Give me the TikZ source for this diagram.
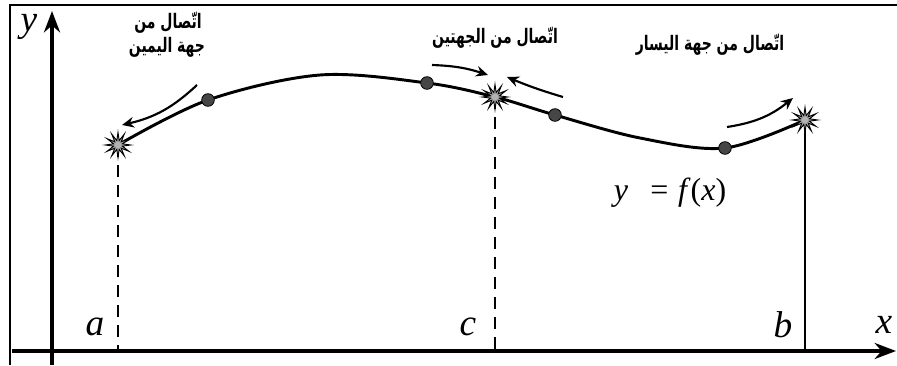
\documentclass[tikz,border=0pt]{standalone}
\usepackage{fontspec}
\usepackage{graphicx}
\setmainfont{Liberation Serif}
\newfontfamily\arabicfont[Script=Arabic]{DejaVu Sans}
\TeXXeTstate=1
\usetikzlibrary{arrows.meta,shapes.geometric}
\newcommand{\artext}[1]{\scalebox{0.7}[1]{\beginR #1\endR}}
\tikzset{
  axis/.style={line width=3.6pt,-{Stealth[length=16pt,width=12pt]}},
  frameline/.style={line width=1.6pt},
  fcurve/.style={line width=2.2pt},
  guide/.style={line width=1.4pt,dash pattern=on 9pt off 6pt},
  guidesolid/.style={line width=1.4pt},
  dotpt/.style={circle,fill=gray!55!black,draw=black,line width=0.6pt,minimum size=9.5pt,inner sep=0pt},
  starpt/.style={star,star points=12,star point ratio=2.8,fill=gray!60,draw=black,line width=0.7pt,minimum size=19pt,inner sep=0pt},
  limarrow/.style={line width=1.6pt,-{Stealth[length=9pt,width=8pt,inset=3pt]}},
  lbl/.style={font=\fontsize{28}{30}\selectfont\itshape,inner sep=0pt},
  arlbl/.style={font=\arabicfont\bfseries\fontsize{15}{17}\selectfont,inner sep=1pt}
}
\begin{document}
\begin{tikzpicture}[x=0.75pt,y=0.75pt]
\useasboundingbox (0,0) rectangle (897,365);
\fill[white] (0,0) rectangle (897,365);
% frame
\coordinate (fbl) at (10,0);
\coordinate (ftl) at (10,360);
\coordinate (ftr) at (897,360);
\draw[frameline] (fbl) -- (ftl) -- (ftr);
% axes
\coordinate (xs) at (12,14);
\coordinate (xe) at (896,14);
\coordinate (ys) at (52,0);
\coordinate (ye) at (52,354);
\draw[axis] (xs) -- (xe);
\draw[axis] (ys) -- (ye);
\node[lbl] (ylab) at (29,338) {y};
\node[lbl] (xlab) at (884,40) {x};
% curve points
\coordinate (sa) at (118,220);
\coordinate (d1) at (208,265);
\coordinate (pk) at (320,290);
\coordinate (d2) at (427,282);
\coordinate (sc) at (495,268);
\coordinate (d3) at (555,250);
\coordinate (md) at (640,227);
\coordinate (d4) at (725,217);
\coordinate (sb) at (805,245);
% feet
\coordinate (fa) at (118,14);
\coordinate (fc) at (495,14);
\coordinate (fb) at (805,14);
\draw[guide] (sa) -- (fa);
\draw[guide] (sc) -- (fc);
\draw[guidesolid] (sb) -- (fb);
\draw[fcurve] plot[smooth,tension=0.55] coordinates {(sa) (d1) (pk) (d2) (sc) (d3) (md) (d4) (sb)};
\node[dotpt] (n1) at (d1) {};
\node[dotpt] (n2) at (d2) {};
\node[dotpt] (n3) at (d3) {};
\node[dotpt] (n4) at (d4) {};
\node[starpt] (na) at (sa) {};
\node[starpt] (nc) at (sc) {};
\node[starpt] (nb) at (sb) {};
% letters
\node[lbl] (la) at (95,38) {a};
\node[lbl] (lc) at (468,38) {c};
\node[lbl] (lb) at (783,40) {b};
\node[font=\fontsize{24}{26}\selectfont,inner sep=0pt] (fx) at (670,172) {\textit{y}\hspace{0.7em}=\hspace{0.3em}\textit{f}(\textit{x})};
% arrows
\coordinate (t1) at (197,280); \coordinate (h1) at (122,240);
\coordinate (t2) at (432,300); \coordinate (h2) at (488,290);
\coordinate (t3) at (563,268); \coordinate (h3) at (507,288);
\coordinate (t4) at (727,238); \coordinate (h4) at (793,267);
\draw[limarrow] (t1) to[bend left=15] (h1);
\draw[limarrow] (t2) to[bend left=8] (h2);
\draw[limarrow] (t3) to[bend left=3] (h3);
\draw[limarrow] (t4) to[bend right=15] (h4);
% Arabic labels
\node[arlbl] (ar1) at (168,342) {\artext{اتّصال من}};
\node[arlbl] (ar2) at (167,318) {\artext{جهة اليمين}};
\node[arlbl] (ar3) at (495,327) {\artext{اتّصال من الجهتين}};
\node[arlbl] (ar4) at (710,320) {\artext{اتّصال من جهة اليسار}};
\end{tikzpicture}
\end{document}
